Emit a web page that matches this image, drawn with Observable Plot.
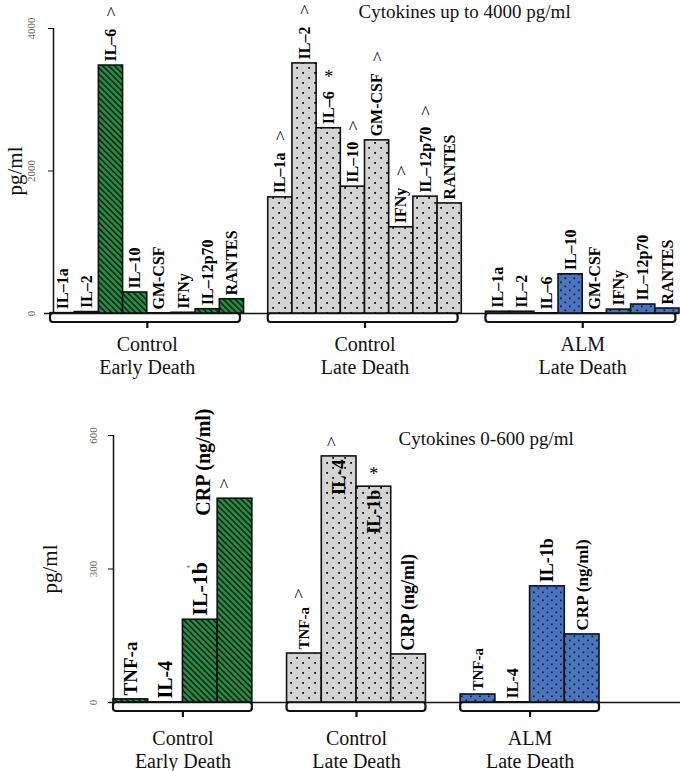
<!DOCTYPE html>
<html><head><meta charset="utf-8">
<script src="https://cdn.jsdelivr.net/npm/d3@7"></script>
<script src="https://cdn.jsdelivr.net/npm/@observablehq/plot@0.6"></script>
<style>
body{margin:0;background:#fff;}
#chart{width:680px;position:relative;}
#chart svg{display:block;}
</style></head><body>
<svg width="0" height="0" style="position:absolute">
<defs>
<pattern id="hatchG" patternUnits="userSpaceOnUse" width="4.2" height="4.2" patternTransform="rotate(-45)">
<rect width="4.2" height="4.2" fill="#2a8a46"/>
<rect width="1.7" height="4.2" fill="#0b2b14"/>
</pattern>
<pattern id="dotsGray" patternUnits="userSpaceOnUse" width="12" height="10">
<rect width="12" height="10" fill="#d4d4d4"/>
<rect x="2.2" y="2" width="1.8" height="1.8" fill="#111"/>
<rect x="8.2" y="7" width="1.8" height="1.8" fill="#111"/>
</pattern>
<pattern id="dotsBlue" patternUnits="userSpaceOnUse" width="9" height="8">
<rect width="9" height="8" fill="#4a74bd"/>
<rect x="2" y="1.5" width="1.7" height="1.7" fill="#0f1a33"/>
<rect x="6.5" y="5.5" width="1.7" height="1.7" fill="#0f1a33"/>
</pattern>
</defs>
</svg>
<div id="chart"></div>
<script>
// ---------------- data ----------------
const groupNames = ["Control\nEarly Death", "Control\nLate Death", "ALM\nLate Death"];

const topCats = ["IL–1a", "IL–2", "IL–6", "IL–10", "GM-CSF", "IFNy", "IL–12p70", "RANTES"];
const topEarly = [5, 20, 3480, 295, 0, 10, 60, 200];
const topLate = [1630, 3510, 2600, 1780, 2430, 1210, 1640, 1545];
const topALM = [25, 25, 0, 550, 0, 55, 126, 70];
const topTicks = [0, 2000, 4000];
const topTitle = "Cytokines up to 4000 pg/ml";
// significance markers: [group index, category, symbol]
const topMarkers = [[0, "IL–6", "^"], [1, "IL–1a", "^"], [1, "IL–2", "^"], [1, "IL–6", "*"],
  [1, "IL–10", "^"], [1, "GM-CSF", "^"], [1, "IFNy", "^"], [1, "IL–12p70", "^"]];

const botCats = ["TNF-a", "IL-4", "IL-1b", "CRP (ng/ml)"];
const botEarly = [7, 0, 186, 458];
const botLate = [110, 553, 485, 108];
const botALM = [18, 0, 261, 153];
const botTicks = [0, 300, 600];
const botTitle = "Cytokines 0-600 pg/ml";
const botMarkers = [[0, "IL-1b", "*"], [0, "CRP (ng/ml)", "^"], [1, "TNF-a", "^"], [1, "IL-4", "^"], [1, "IL-1b", "*"]];

const yLabel = "pg/ml";

// ---------------- styling helpers ----------------
const SERIF = "'Liberation Serif', 'Times New Roman', serif";
const fills = ["url(#hatchG)", "url(#dotsGray)", "url(#dotsBlue)"];
const ctx = document.createElement("canvas").getContext("2d");
function textW(s, size, bold) {
  ctx.font = `${bold ? "bold " : ""}${size}px 'Liberation Serif'`;
  return ctx.measureText(s).width;
}

function buildRows(series, cats, step) {
  const rows = [];
  series.forEach((vals, gi) => vals.forEach((v, ci) => rows.push({gi, ci, cat: cats[ci], value: v, slot: gi * step + ci})));
  return rows;
}
function buildGroups(n, step) {
  return groupNames.map((name, gi) => ({name, x1: gi * step, x2: gi * step + n, cx: gi * step + n / 2}));
}

const chart = document.getElementById("chart");

// ---------------- top panel ----------------
{
  const rows = buildRows([topEarly, topLate, topALM], topCats, 9);
  const groups = buildGroups(8, 9);
  const LS = 16;
  const marks = [];
  marks.push(Plot.rect(groups, {x1: "x1", x2: d => d.x2 - 0.15, y1: 0, y2: 0, insetBottom: -9, fill: "white", stroke: "#111", strokeWidth: 2.2, rx: 3}));
  marks.push(Plot.ruleX(groups, {x: "cx", y1: 0, y2: 0, insetTop: 9, insetBottom: -15, stroke: "#111", strokeWidth: 2.2}));
  marks.push(Plot.ruleY([0], {insetLeft: -6, stroke: "#111", strokeWidth: 1.5}));
  marks.push(Plot.ruleX([0], {y1: 0, y2: 4000, dx: 3, stroke: "#111", strokeWidth: 1.5}));
  marks.push(Plot.axisY({ticks: topTicks, tickFormat: d => String(d), tickSize: 5, tickRotate: -90, tickPadding: 14, fontSize: 11, dx: 3, label: null, stroke: "#111", fill: "#666"}));
  [0, 1, 2].forEach(gi => marks.push(Plot.rect(rows.filter(d => d.gi === gi), {x1: "slot", x2: d => d.slot + 1, y1: 0, y2: "value", fill: fills[gi], stroke: "#111", strokeWidth: 1.6})));
  marks.push(Plot.text(rows, {x: d => d.slot + 0.5, y: "value", text: "cat", rotate: -90, textAnchor: "start", lineAnchor: "middle", dy: -4, fontSize: LS, fontWeight: "bold", fontFamily: SERIF, fill: "#000"}));
  topMarkers.forEach(([gi, cat, sym]) => {
    const r = rows.find(d => d.gi === gi && d.cat === cat);
    const w = textW(cat, LS, true);
    marks.push(Plot.text([r], {x: d => d.slot + 0.5, y: "value", text: () => sym, dy: -(4 + w + 14), fontSize: 18, fontFamily: SERIF, fill: "#000"}));
  });
  marks.push(Plot.text(groups, {x: "cx", y: 0, text: "name", lineAnchor: "top", dy: 21, lineHeight: 1.15, fontSize: 20, fontFamily: SERIF, fill: "#111"}));
  marks.push(Plot.text([topTitle], {frameAnchor: "top-left", dx: 308, dy: -24, lineAnchor: "top", textAnchor: "start", fontSize: 19, fontFamily: SERIF, fill: "#111"}));
  marks.push(Plot.text([yLabel], {frameAnchor: "left", y: 2000, dx: -35, rotate: -90, textAnchor: "middle", fontSize: 21, fontFamily: SERIF, fill: "#111"}));
  const svg = Plot.plot({
    width: 680, height: 390,
    marginLeft: 50, marginRight: 1, marginTop: 28, marginBottom: 77,
    x: {domain: [0, 26], axis: null},
    y: {domain: [0, 4000], axis: null},
    style: {fontFamily: SERIF, background: "white", color: "#111", overflow: "visible"},
    marks
  });
  chart.appendChild(svg);
}

// ---------------- bottom panel ----------------
{
  const rows = buildRows([botEarly, botLate, botALM], botCats, 5);
  const groups = buildGroups(4, 5);
  const sizes = [[19, 20, 22, 20], [15, 19, 18, 18], [15, 16, 18, 17]];
  const inside = (gi, ci) => gi === 1 && (ci === 1 || ci === 2);
  const shifted = (gi, ci) => gi === 0 && ci === 3;
  const marks = [];
  marks.push(Plot.rect(groups, {x1: "x1", x2: "x2", y1: 0, y2: 0, insetBottom: -9, fill: "white", stroke: "#111", strokeWidth: 2.2, rx: 3}));
  marks.push(Plot.ruleX(groups, {x: "cx", y1: 0, y2: 0, insetTop: 9, insetBottom: -15, stroke: "#111", strokeWidth: 2.2}));
  marks.push(Plot.ruleY([0], {insetLeft: -4, insetRight: -81, stroke: "#111", strokeWidth: 1.5}));
  marks.push(Plot.ruleX([0], {y1: 0, y2: 600, stroke: "#111", strokeWidth: 1.5}));
  marks.push(Plot.axisY({ticks: botTicks, tickFormat: d => String(d), tickSize: 5, tickRotate: -90, tickPadding: 12, fontSize: 11, label: null, stroke: "#111", fill: "#666"}));
  [0, 1, 2].forEach(gi => marks.push(Plot.rect(rows.filter(d => d.gi === gi), {x1: "slot", x2: d => d.slot + 1, y1: 0, y2: "value", fill: fills[gi], stroke: "#111", strokeWidth: 1.6})));
  rows.forEach(r => {
    const fs = sizes[r.gi][r.ci];
    let opts;
    if (inside(r.gi, r.ci)) opts = {textAnchor: "end", dy: 3, dx: 0};
    else if (shifted(r.gi, r.ci)) opts = {textAnchor: "start", dy: 17, dx: -31};
    else opts = {textAnchor: "start", dy: -4, dx: 0};
    marks.push(Plot.text([r], {x: d => d.slot + 0.5, y: "value", text: "cat", rotate: -90, lineAnchor: "middle", fontSize: fs, fontWeight: "bold", fontFamily: SERIF, fill: "#000", ...opts}));
  });
  botMarkers.forEach(([gi, cat, sym]) => {
    const r = rows.find(d => d.gi === gi && d.cat === cat);
    const fs = sizes[r.gi][r.ci];
    const w = textW(cat, fs, true);
    const above = !inside(r.gi, r.ci) && !shifted(r.gi, r.ci);
    let dy, dx = 0, size = 18, fill = "#000";
    if (gi === 0 && r.ci === 2) { dy = -(4 + w) + 6; dx = -12; size = 9; fill = "#777"; }
    else if (above) { dy = -(4 + w + 11); dx = -6; }
    else dy = -12;
    if (shifted(r.gi, r.ci)) dx = -11;
    if (inside(r.gi, r.ci) && r.ci === 1) dx = -8;
    marks.push(Plot.text([r], {x: d => d.slot + 0.5, y: "value", text: () => sym, dx, dy, fontSize: size, fontFamily: SERIF, fill}));
  });
  marks.push(Plot.text(groups, {x: "cx", y: 0, text: "name", lineAnchor: "top", dy: 26, lineHeight: 1.15, fontSize: 20, fontFamily: SERIF, fill: "#111"}));
  marks.push(Plot.text([botTitle], {frameAnchor: "top-left", dx: 285, dy: -4, lineAnchor: "top", textAnchor: "start", fontSize: 19, fontFamily: SERIF, fill: "#111"}));
  marks.push(Plot.text([yLabel], {frameAnchor: "left", y: 300, dx: -63, rotate: -90, textAnchor: "middle", fontSize: 21, fontFamily: SERIF, fill: "#111"}));
  const svg = Plot.plot({
    width: 680, height: 381,
    marginLeft: 113, marginRight: 81, marginTop: 45, marginBottom: 69,
    x: {domain: [0, 14], axis: null},
    y: {domain: [0, 600], axis: null},
    style: {fontFamily: SERIF, background: "white", color: "#111", overflow: "visible"},
    marks
  });
  chart.appendChild(svg);
}
</script>
</body></html>
